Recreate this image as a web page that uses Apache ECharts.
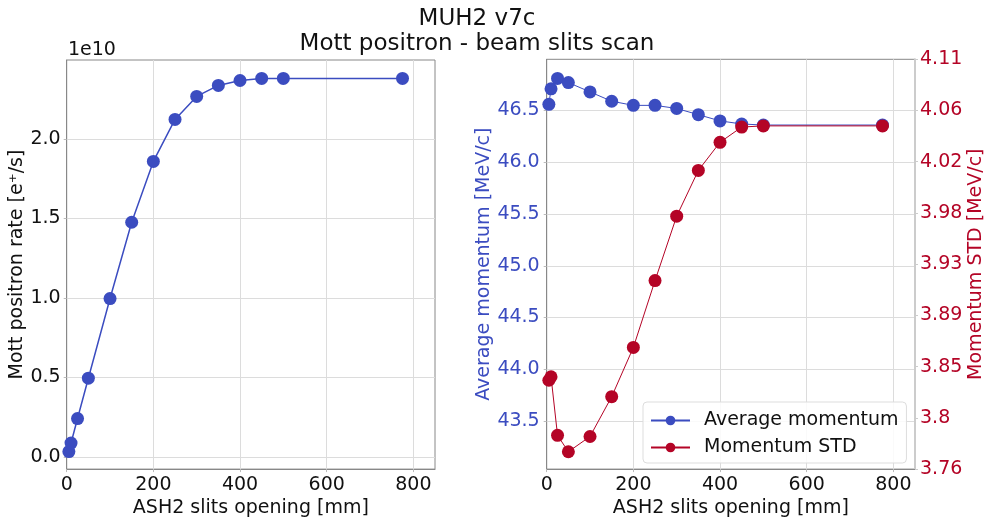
<!DOCTYPE html>
<html>
<head>
<meta charset="utf-8">
<script src="https://cdn.jsdelivr.net/npm/echarts@6/dist/echarts.min.js"></script>
<style>
html,body{margin:0;padding:0;background:#fff;}
#chart{width:988px;height:523px;}
</style>
</head>
<body>
<div id="chart"></div>
<script>
// ---- data ----
var slits = [5, 10, 25, 50, 100, 150, 200, 250, 300, 350, 400, 450, 500, 775];
var rate = [0.033e10, 0.087e10, 0.241e10, 0.495e10, 0.996e10, 1.476e10, 1.859e10, 2.123e10, 2.268e10, 2.337e10, 2.368e10, 2.381e10, 2.381e10, 2.381e10];
var avgMomentum = [46.56, 46.71, 46.81, 46.77, 46.68, 46.59, 46.55, 46.55, 46.52, 46.46, 46.40, 46.37, 46.36, 46.36];
var stdMomentum = [3.834, 3.837, 3.787, 3.773, 3.786, 3.820, 3.862, 3.919, 3.974, 4.013, 4.037, 4.050, 4.051, 4.051];
var xTicks = [0, 200, 400, 600, 800];
var rateTicks = [0, 0.5e10, 1.0e10, 1.5e10, 2.0e10];
var avgTicks = [43.5, 44.0, 44.5, 45.0, 45.5, 46.0, 46.5];
var stdTicks = [3.7582, 3.8019, 3.8456, 3.8893, 3.9330, 3.9767, 4.0204, 4.0641, 4.1078];

var BLUE = '#3b4cc0', RED = '#b40426';
var FONT = 'DejaVu Sans';

function pairs(xs, ys) { return xs.map(function (x, i) { return [x, ys[i]]; }); }

var chart = echarts.init(document.getElementById('chart'), null, {renderer: 'canvas'});

var commonX = function (gi) {
  return {
    type: 'value', gridIndex: gi, min: 0, max: 850,
    name: 'ASH2 slits opening [mm]', nameLocation: 'middle', nameGap: 25,
    nameTextStyle: {fontFamily: FONT, fontSize: 19, color: '#111'},
    axisLine: {show: true, onZero: false, lineStyle: {color: '#888', width: 1}},
    axisTick: {show: true, length: 3, lineStyle: {color: '#bbb'}, customValues: xTicks},
    axisLabel: {fontFamily: FONT, fontSize: 19, color: '#111', margin: 6, customValues: xTicks},
    splitLine: {show: true, lineStyle: {color: '#dcdcdc', width: 1}}
  };
};

var option = {
  animation: false,
  backgroundColor: '#fff',
  textStyle: {fontFamily: FONT},
  title: {
    text: 'MUH2 v7c\nMott positron - beam slits scan',
    left: 472, top: 2, textAlign: 'center',
    textStyle: {fontFamily: FONT, fontSize: 23, fontWeight: 'normal', color: '#111', lineHeight: 25}
  },
  graphic: [{
    type: 'text', left: 68, top: 41,
    style: {text: '1e10', fontFamily: FONT, fontSize: 19, fill: '#111'}
  }],
  legend: {
    orient: 'vertical', left: 643, top: 402,
    padding: [9, 8, 6, 7],
    itemGap: 8, itemWidth: 39, itemHeight: 12,
    backgroundColor: 'rgba(255,255,255,0.85)',
    borderColor: '#dddddd', borderWidth: 1, borderRadius: 4,
    textStyle: {fontFamily: FONT, fontSize: 19, color: '#111', padding: [0, 0, 0, 9]},
    data: ['Average momentum', 'Momentum STD']
  },
  grid: [
    {left: 66.7, top: 60, width: 368.3, height: 412.7, show: true, borderColor: '#888', borderWidth: 1, backgroundColor: 'transparent'},
    {left: 546.7, top: 59.3, width: 368.3, height: 413.4, show: true, borderColor: '#888', borderWidth: 1, backgroundColor: 'transparent'}
  ],
  xAxis: [commonX(0), commonX(1)],
  yAxis: [
    {
      type: 'value', gridIndex: 0, min: -0.077e10, max: 2.497e10,
      name: 'Mott positron rate [e⁺/s]', nameLocation: 'middle', nameRotate: 90, nameGap: 38,
      nameTextStyle: {fontFamily: FONT, fontSize: 19, color: '#111'},
      axisLine: {show: true, onZero: false, lineStyle: {color: '#888'}},
      axisTick: {show: true, length: 3, lineStyle: {color: '#bbb'}, customValues: rateTicks},
      axisLabel: {fontFamily: FONT, fontSize: 19, color: '#111', margin: 6, customValues: rateTicks,
        formatter: function (v) { return (v / 1e10).toFixed(1); }},
      splitLine: {show: true, lineStyle: {color: '#dcdcdc'}}
    },
    {
      type: 'value', gridIndex: 1, min: 43.036, max: 46.995, position: 'left',
      name: 'Average momentum [MeV/c]', nameLocation: 'middle', nameRotate: 90, nameGap: 48,
      nameTextStyle: {fontFamily: FONT, fontSize: 19, color: BLUE},
      axisLine: {show: true, onZero: false, lineStyle: {color: '#888'}},
      axisTick: {show: true, length: 3, lineStyle: {color: '#bbb'}, customValues: avgTicks},
      axisLabel: {fontFamily: FONT, fontSize: 19, color: BLUE, margin: 7, customValues: avgTicks,
        formatter: function (v) { return v.toFixed(1); }},
      splitLine: {show: true, lineStyle: {color: '#dcdcdc'}}
    },
    {
      type: 'value', gridIndex: 1, min: 3.7582, max: 4.1078, position: 'right',
      name: 'Momentum STD [MeV/c]', nameLocation: 'middle', nameRotate: 90, nameGap: 46,
      nameTextStyle: {fontFamily: FONT, fontSize: 19, color: RED},
      axisLine: {show: true, onZero: false, lineStyle: {color: '#cccccc', width: 2}},
      axisTick: {show: true, length: 3, lineStyle: {color: '#cccccc'}, customValues: stdTicks},
      axisLabel: {fontFamily: FONT, fontSize: 19, color: RED, margin: 5, customValues: stdTicks,
        formatter: function (v) { return String(parseFloat(v.toFixed(2))); }},
      splitLine: {show: false}
    }
  ],
  series: [
    {
      name: 'Mott rate', type: 'line', xAxisIndex: 0, yAxisIndex: 0,
      data: pairs(slits, rate), symbol: 'circle', symbolSize: 13,
      lineStyle: {color: BLUE, width: 1.5}, itemStyle: {color: BLUE}
    },
    {
      name: 'Average momentum', type: 'line', xAxisIndex: 1, yAxisIndex: 1,
      data: pairs(slits, avgMomentum), symbol: 'circle', symbolSize: 13,
      lineStyle: {color: BLUE, width: 1}, itemStyle: {color: BLUE}
    },
    {
      name: 'Momentum STD', type: 'line', xAxisIndex: 1, yAxisIndex: 2,
      data: pairs(slits, stdMomentum), symbol: 'circle', symbolSize: 13,
      lineStyle: {color: RED, width: 1}, itemStyle: {color: RED}
    }
  ]
};
chart.setOption(option);
</script>
</body>
</html>
